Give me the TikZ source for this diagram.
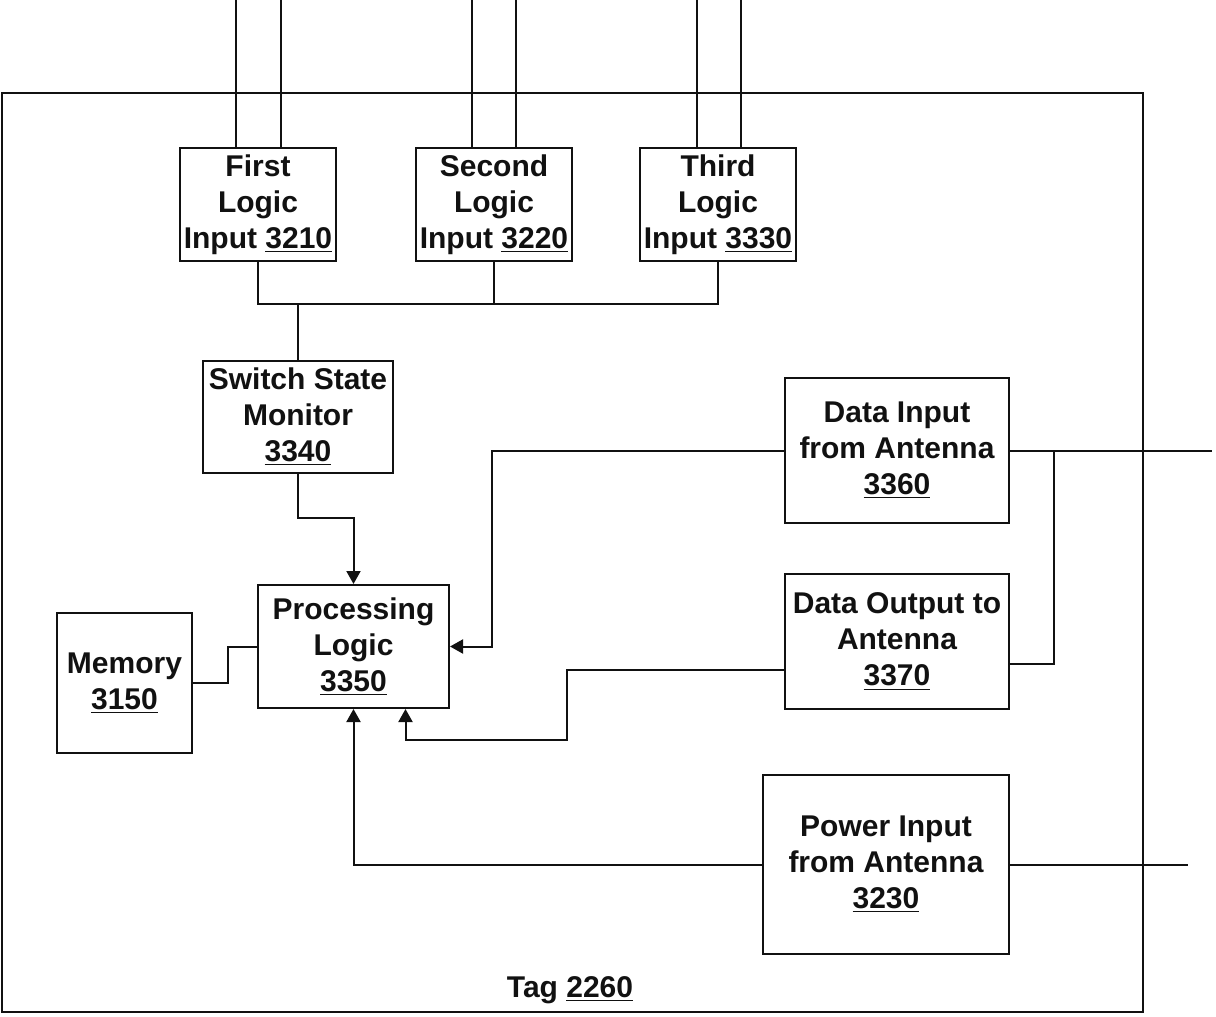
\documentclass[tikz,border=0pt]{standalone}
\usepackage{fontspec}
\setsansfont{Liberation Sans}
\usetikzlibrary{arrows.meta,positioning,calc,fit}
\definecolor{cInk}{HTML}{111111}
\tikzset{
  blk/.style={draw=cInk,line width=1pt,inner sep=0pt},
  blktxt/.style={inner sep=0pt,align=center,
      font=\sffamily\bfseries\fontsize{15}{18}\selectfont,text=cInk},
  wire/.style={draw=cInk,line width=1pt},
  arr/.style={wire,-{Triangle[length=6.5pt,width=7pt]}},
}
\newcommand{\idn}[1]{\underline{#1}}
\newcommand{\tagblock}[6]{%
  \node[blk,fit={(#2,#3) (#4,#5)}] (#1) {};
  \node[blktxt] (#1t) at (#1.center) {#6};}

\begin{document}
\begin{tikzpicture}[x=0.5pt,y=-0.5pt]
  \useasboundingbox (0,0) rectangle (1216,1017);

  % tag outline
  \node[blk,fit={(2,93) (1143,1012)}] (tag) {};
  \node[blktxt] (taglbl) at (570,990) {Tag \idn{2260}};

  \tagblock{fli}{180}{148}{336}{261}{First\\Logic\\Input \idn{3210}}
  \tagblock{sli}{416}{148}{572}{261}{Second\\Logic\\Input \idn{3220}}
  \tagblock{tli}{640}{148}{796}{261}{Third\\Logic\\Input \idn{3330}}
  \tagblock{ssm}{203}{361}{393}{473}{Switch State\\Monitor\\\idn{3340}}
  \tagblock{pl}{258}{585}{449}{708}{Processing\\Logic\\\idn{3350}}
  \tagblock{mem}{57}{613}{192}{753}{Memory\\\idn{3150}}
  \tagblock{di}{785}{378}{1009}{523}{Data Input\\from Antenna\\\idn{3360}}
  \tagblock{do}{785}{574}{1009}{709}{Data Output to\\Antenna\\\idn{3370}}
  \tagblock{pi}{763}{775}{1009}{954}{Power Input\\from Antenna\\\idn{3230}}

  % switch leads
  \foreach \b/\dl/\dr in {fli/-22/23,sli/-22/22,tli/-21/23} {
    \draw[wire] ($(\b.north)+(\dl,0)$) -- ++(0,-148);
    \draw[wire] ($(\b.north)+(\dr,0)$) -- ++(0,-148);
  }

  % logic inputs to monitor
  \coordinate (bus) at (298,304);
  \draw[wire] (fli.south) |- (bus) -- (ssm.north);
  \draw[wire] (tli.south) |- (bus);
  \draw[wire] (sli.south) -- (sli.south |- bus);

  \draw[arr] (ssm.south) -- ++(0,44) -| (pl.north);
  \draw[wire] (mem.east) -- ++(35,0) |- (pl.west);

  % antenna side
  \coordinate (antD) at (1212,450);
  \coordinate (antP) at (1188,865);
  \draw[wire] (di.east) -- (di.east -| antD);
  \draw[wire] ($(di.east)+(44,0)$) |- ($(do.east)+(0,22)$);
  \draw[arr] (di.west) -| ($(pl.east)+(42,0)$) -- (pl.east);
  \draw[arr] ($(do.west)+(0,28)$) -- ++(-217,0) |- ($(pl.south)+(52,31)$)
    -- ($(pl.south)+(52,0)$);
  \draw[arr] (pi.west) -| (pl.south);
  \draw[wire] (pi.east) -- (pi.east -| antP);
\end{tikzpicture}
\end{document}
